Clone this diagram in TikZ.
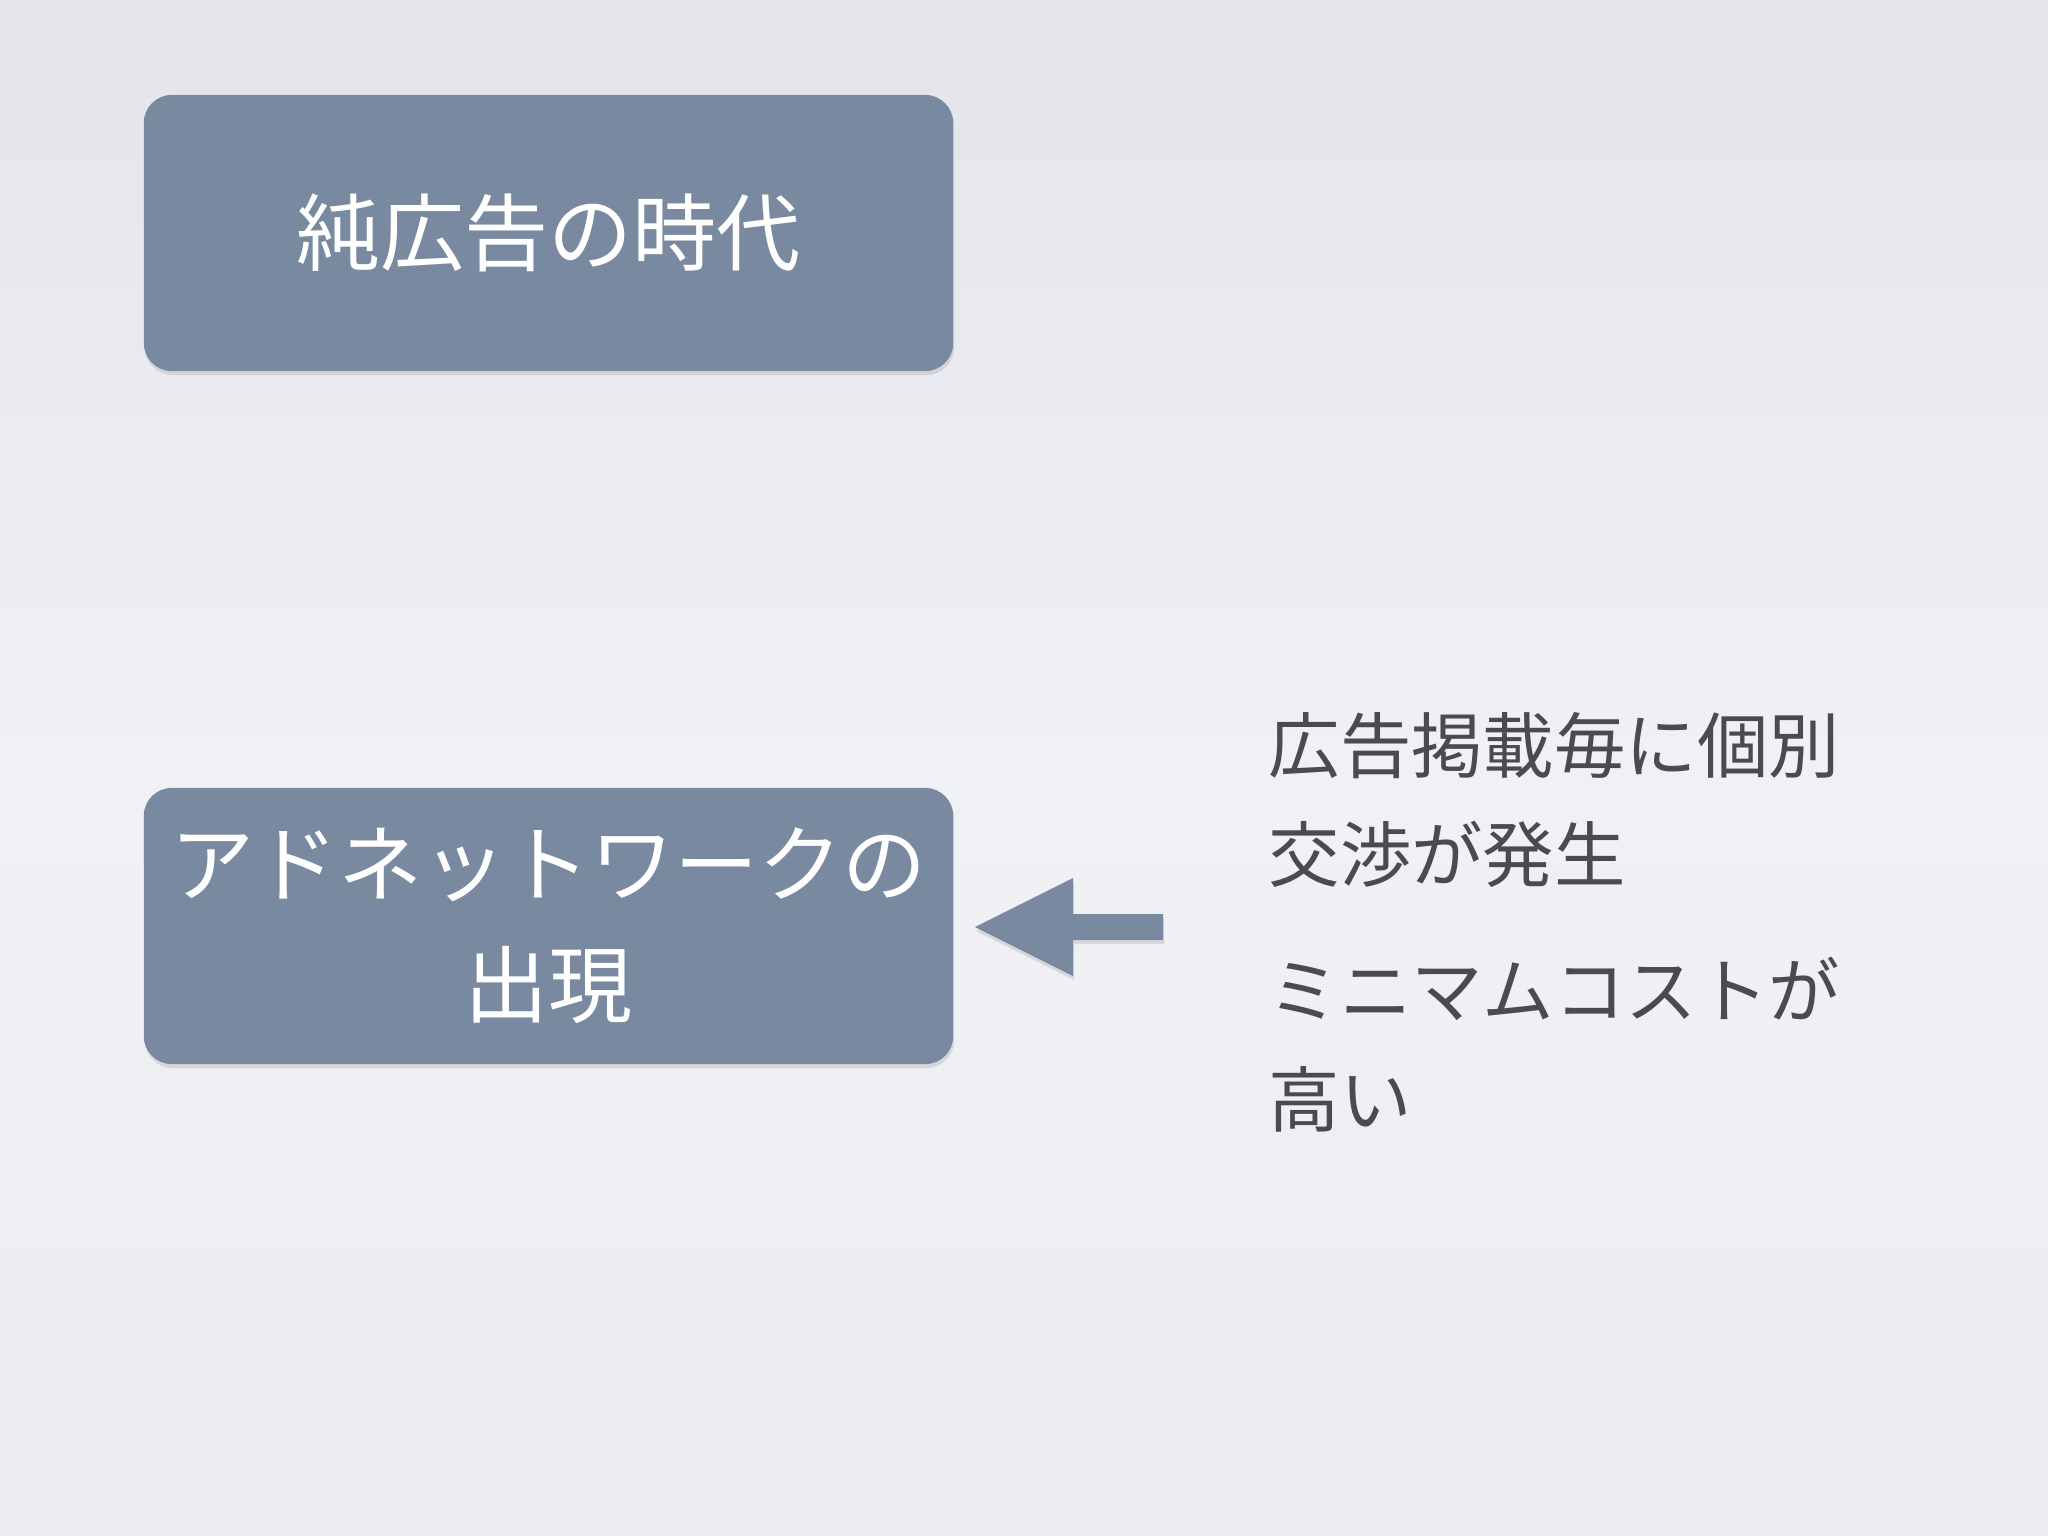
\documentclass[tikz,border=0pt]{standalone}
\usepackage{fontspec}
\newfontfamily\jpfont{Noto Sans CJK JP}
\usetikzlibrary{shadows}
\definecolor{boxfill}{RGB}{121,137,160}
\definecolor{txtgray}{RGB}{74,74,80}
\definecolor{bgtop}{RGB}{227,229,235}
\definecolor{bgmid}{RGB}{240,241,245}
\definecolor{bgbot}{RGB}{236,237,241}
\tikzset{
  softshadow/.style={drop shadow={shadow xshift=0.01cm, shadow yshift=-0.04cm, opacity=0.15, fill=black!70}},
  slidebox/.style={fill=boxfill, rounded corners=0.28cm, minimum width=8.09cm,
    minimum height=2.76cm, text=white, align=center, inner sep=0pt,
    font=\jpfont\fontsize{23.9pt}{34.5pt}\selectfont, softshadow},
  sidetext/.style={anchor=west, align=left, inner sep=0pt, text=txtgray,
    font=\jpfont\fontsize{20.3pt}{31pt}\selectfont},
  arrowshape/.style={fill=boxfill, softshadow}
}
\begin{document}
\begin{tikzpicture}[x=0.01cm, y=-0.01cm]
  \useasboundingbox (0,0) rectangle (2048,1536);
  \shade[top color=bgtop, bottom color=bgbot, middle color=bgmid] (0,0) rectangle (2048,1536);
  \node[slidebox] (pure) at (548.5,233) {純広告の時代};
  \node[slidebox] (adnet) at (548.5,926) {アドネットワークの\\出現};
  \node[sidetext] (nego) at (1268,800) {広告掲載毎に個別\\交渉が発生};
  \node[sidetext] (cost) at (1268,1045) {ミニマムコストが\\高い};
  \coordinate (tip) at (975,927);
  \path[arrowshape] (tip) -- (1073,878) -- (1073,914) -- (1163,914) -- (1163,940) -- (1073,940) -- (1073,976) -- cycle;
\end{tikzpicture}
\end{document}
